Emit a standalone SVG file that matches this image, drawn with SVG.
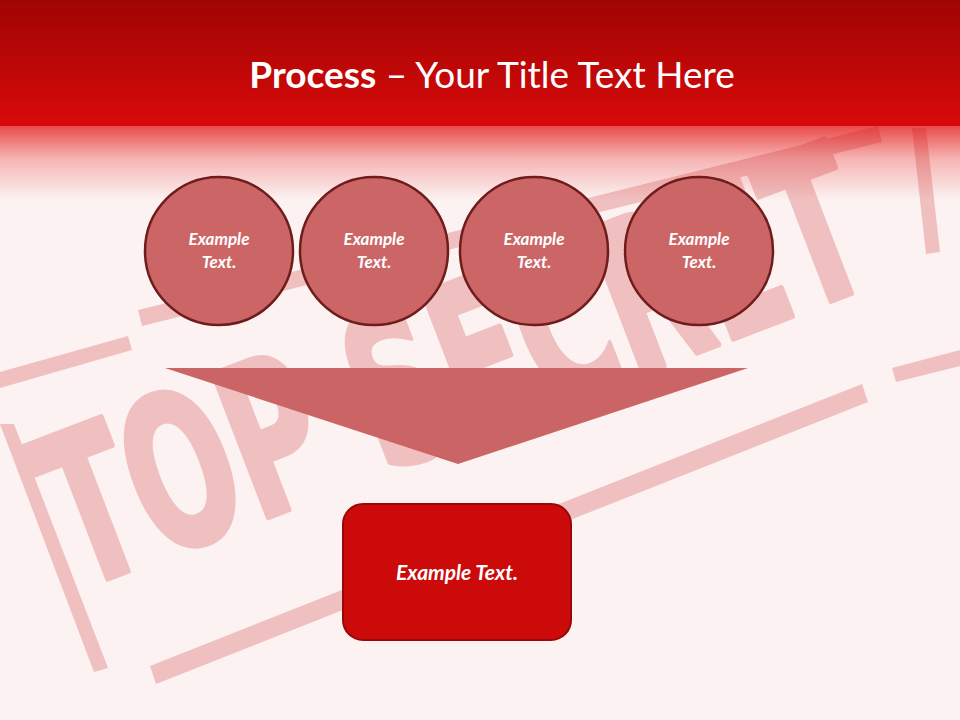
<svg xmlns="http://www.w3.org/2000/svg" width="960" height="720" viewBox="0 0 960 720">
<defs>
<linearGradient id="hdr" x1="0" y1="0" x2="0" y2="1">
<stop offset="0" stop-color="#a10404"/>
<stop offset="1" stop-color="#d80a0a"/>
</linearGradient>
<linearGradient id="fade" x1="0" y1="0" x2="0" y2="1">
<stop offset="0" stop-color="#ea4848"/>
<stop offset="0.45" stop-color="#f6b4b4"/>
<stop offset="1" stop-color="#fcf2f2"/>
</linearGradient>
<style>
.stamp{fill:#c81414;opacity:0.22}
.circ{fill:#cc6666;stroke:#6e1c1c;stroke-width:2.5}
.lbl{font-family:Lato,"Open Sans",sans-serif;font-weight:bold;font-style:italic;fill:#ffffff;text-anchor:middle}
</style>
</defs>
<rect x="0" y="0" width="960" height="720" fill="#fcf2f2"/>
<rect x="0" y="125" width="960" height="75" fill="url(#fade)"/>
<g id="stamp">
<g class="stamp">
<polygon points="138,310 878,126 882,142 142,326"/>
<polygon points="0,372 128,336 132,350 0,388"/>
<polygon points="892,368 960,350 960,366 896,382"/>
<polygon points="150,666 862,384 868,402 156,684"/>
<polygon points="0,424 14,424 108,668 94,672"/>
<polygon points="912,128 926,128 940,252 926,254"/>
<text x="78" y="590" transform="rotate(-21 78 590)" font-family="'DejaVu Sans',sans-serif" font-weight="bold" font-size="210" stroke="#c81414" stroke-width="6" stroke-linejoin="round" textLength="860" lengthAdjust="spacingAndGlyphs">TOP SECRET</text>
</g>
</g>
<rect x="0" y="0" width="960" height="126" fill="url(#hdr)"/>
<text x="492" y="88" text-anchor="middle" font-family="Lato,'Open Sans',sans-serif" font-size="37" fill="#ffffff"><tspan font-weight="bold">Process</tspan> – Your Title Text Here</text>
<g id="connectors">
<polygon id="arrow" points="165,368 748,368 458,464" fill="#cb6565"/>
</g>
<g id="node1"><circle class="circ" cx="219" cy="251" r="74"/><text class="lbl" x="219" y="245" font-size="17">Example</text><text class="lbl" x="219" y="268" font-size="17">Text.</text></g>
<g id="node2"><circle class="circ" cx="374" cy="251" r="74"/><text class="lbl" x="374" y="245" font-size="17">Example</text><text class="lbl" x="374" y="268" font-size="17">Text.</text></g>
<g id="node3"><circle class="circ" cx="534" cy="251" r="74"/><text class="lbl" x="534" y="245" font-size="17">Example</text><text class="lbl" x="534" y="268" font-size="17">Text.</text></g>
<g id="node4"><circle class="circ" cx="699" cy="251" r="74"/><text class="lbl" x="699" y="245" font-size="17">Example</text><text class="lbl" x="699" y="268" font-size="17">Text.</text></g>
<g id="node5"><rect x="343" y="504" width="228" height="136" rx="20" fill="#cc0a0a" stroke="#980808" stroke-width="2"/><text class="lbl" x="457" y="580" font-size="21">Example Text.</text></g>
</svg>
